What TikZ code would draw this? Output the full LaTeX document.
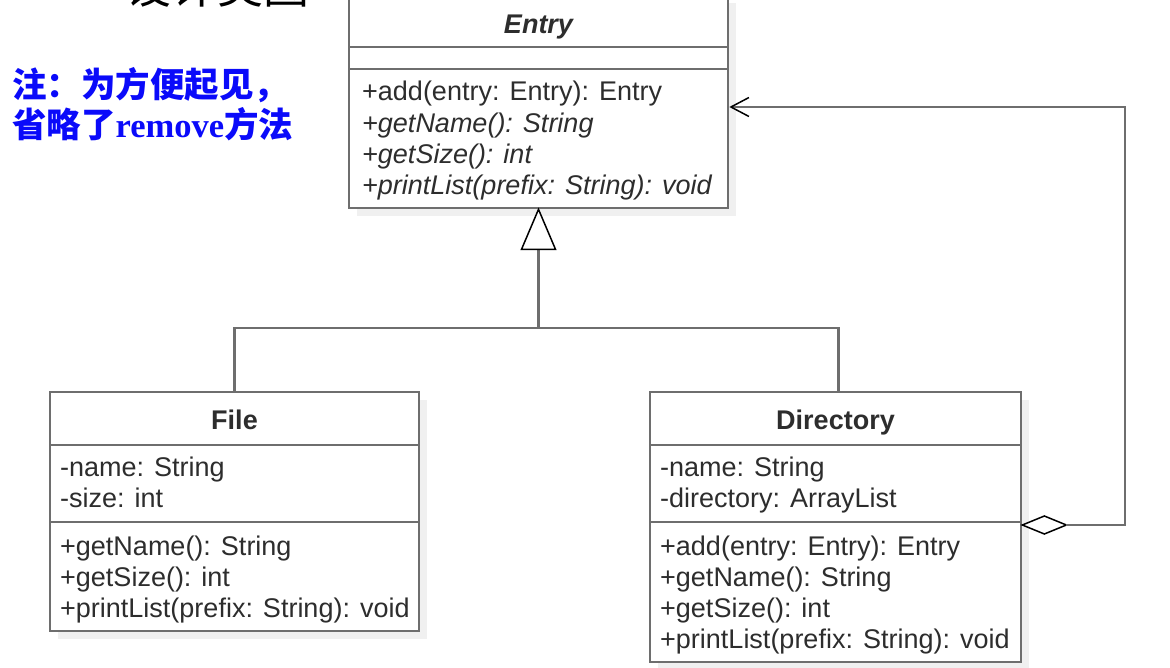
\documentclass[tikz,border=0pt]{standalone}
\usepackage{fontspec}
\setmainfont{Liberation Sans}
\newfontfamily\cjkfont{Noto Sans CJK SC}
\newfontfamily\notefont{Liberation Serif}
\usetikzlibrary{arrows.meta}

\definecolor{linegray}{RGB}{110,110,110}
\definecolor{textgray}{RGB}{45,45,45}
\definecolor{noteblue}{RGB}{10,10,250}

\begin{document}
\begin{tikzpicture}[x=1pt, y=-1pt,
  every node/.style={font=\fontsize{27}{31}\selectfont, text=textgray, inner sep=0pt},
  classbox/.style={draw=linegray, line width=2.7pt, fill=white},
  shadowbox/.style={fill=black!6},
  member/.style={anchor=base west},
  classname/.style={anchor=base, font=\fontsize{27}{31}\selectfont\bfseries},
  divider/.style={draw=linegray, line width=2.7pt},
  link/.style={draw=linegray, line width=2.7pt},
  assoc/.style={draw=linegray, line width=2pt},
  tipshape/.style={draw=black, line width=1.5pt, fill=white},
  notetext/.style={anchor=base west, text=noteblue, font=\cjkfont\bfseries\fontsize{34.5}{34.5}\selectfont}]

  \def\rowh{31.3}

  \useasboundingbox (0,0) rectangle (1170,668);

  % heading, cut off at the top
  \node[anchor=base, text=black, font=\cjkfont\fontsize{46}{46}\selectfont] (heading) at (217,4) {设计类图};

  \node[notetext] (note1) at (12,98) {注：为方便起见，};
  \node[notetext] (note2) at (12,138) {省略了{\notefont remove}方法};

  % Entry
  \fill[shadowbox] (357,3) rectangle (736,216);
  \node[classbox, minimum width=379pt, minimum height=214pt] (entry) at (538.5,101) {};
  \node[classname, font=\fontsize{27}{31}\selectfont\bfseries\itshape] (entryname) at (538.5,34) {Entry};
  \draw[divider] (349,47) -- (728,47);
  \draw[divider] (349,69) -- (728,69);
  \foreach \m [count=\i from 0] in {{+add(entry: Entry): Entry}, {\itshape +getName(): String},
      {\itshape +getSize(): int}, {\itshape +printList(prefix: String): void}} {
    \node[member] (entryop\i) at (362,{101+\rowh*\i}) {\m};
  }

  % File
  \fill[shadowbox] (58,400) rectangle (427,639);
  \node[classbox, minimum width=369pt, minimum height=239pt] (file) at (234.5,511.5) {};
  \node[classname] (filename) at (234.5,429) {File};
  \draw[divider] (50,445) -- (419,445);
  \draw[divider] (50,522) -- (419,522);
  \foreach \m [count=\i from 0] in {-name: String, -size: int} {
    \node[member] (fileattr\i) at (60,{476+\rowh*\i}) {\m};
  }
  \foreach \m [count=\i from 0] in {{+getName(): String}, {+getSize(): int},
      {+printList(prefix: String): void}} {
    \node[member] (fileop\i) at (60,{555+\rowh*\i}) {\m};
  }

  % Directory
  \fill[shadowbox] (658,400) rectangle (1029,670);
  \node[classbox, minimum width=371pt, minimum height=270pt] (dir) at (835.5,527) {};
  \node[classname] (dirname) at (835.5,429) {Directory};
  \draw[divider] (650,445) -- (1021,445);
  \draw[divider] (650,522) -- (1021,522);
  \foreach \m [count=\i from 0] in {-name: String, -directory: ArrayList} {
    \node[member] (dirattr\i) at (660,{476+\rowh*\i}) {\m};
  }
  \foreach \m [count=\i from 0] in {{+add(entry: Entry): Entry}, {+getName(): String},
      {+getSize(): int}, {+printList(prefix: String): void}} {
    \node[member] (dirop\i) at (660,{555+\rowh*\i}) {\m};
  }

  % generalization
  \coordinate (hub) at (538.5,328);
  \coordinate (trianglebase) at (538.5,248);
  \draw[link] (hub) -- (trianglebase);
  \draw[link] (hub) -| (file.north);
  \draw[link] (hub) -| ([xshift=3pt]dir.north);
  \draw[tipshape] (entry.south) -- ++(-17,40) -- ++(34,0) -- cycle;

  % aggregation
  \coordinate (agg) at ([yshift=2pt]dir.east);
  \coordinate (aggend) at ([xshift=44pt]agg);
  \coordinate (corner) at (1125,525);
  \draw[tipshape] (agg) -- ++(22,-9) -- ++(22,9) -- ++(-22,9) -- cycle;
  \draw[assoc, -{Straight Barb[color=black, length=18pt, width=19pt, line width=1.5pt]}]
    (aggend) -- (corner) |- ([yshift=-6pt]entry.east);

\end{tikzpicture}
\end{document}
